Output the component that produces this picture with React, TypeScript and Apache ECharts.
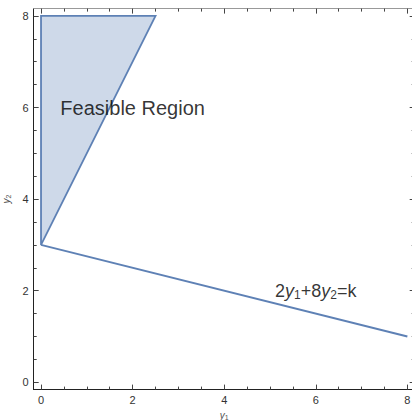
import React, { useEffect, useRef } from 'react';
import * as echarts from 'echarts';

// Feasible region polygon vertices (y1, y2)
const regionX = [0, 2.5, 0];
const regionY = [8, 8, 3];
// Objective line 2y1 + 8y2 = k
const lineX = [0, 8];
const lineY = [3, 1];
// Axis ticks
const majorTicks = [0, 2, 4, 6, 8];
const minorTicks = [0.5, 1, 1.5, 2.5, 3, 3.5, 4.5, 5, 5.5, 6.5, 7, 7.5];
const axisMin = -0.16;
const axisMax = 8.16;
// Annotations
const regionLabel = 'Feasible Region';
const regionLabelAt = [2, 6];
const lineLabel = '2{i|y}{s|1}+8{i|y}{s|2}=k';
const lineLabelAt = [6, 2];
const xName = '{i|y}{s|1}';
const yName = '{i|y}{s|2}';

const FONT = "'Liberation Sans', Arial, sans-serif";
const BLUE = '#5e81b5';

export default function App() {
  const ref = useRef<HTMLDivElement>(null);
  useEffect(() => {
    const chart = echarts.init(ref.current!, null, { renderer: 'svg' });

    const nameRich = {
      i: { fontStyle: 'italic', fontSize: 10, color: '#555', fontFamily: FONT },
      s: { fontSize: 7, color: '#555', fontFamily: FONT, padding: [3, 0, 0, 0] },
    };

    const axis = (
      position: string,
      values: number[],
      len: number,
      showLine: boolean,
      lineColor: string,
      showLabels: boolean,
      name?: string,
      nameGap?: number
    ) => ({
      type: 'value',
      position,
      min: axisMin,
      max: axisMax,
      name,
      nameLocation: 'middle',
      nameGap,
      nameTextStyle: { color: '#555', fontSize: 10, fontFamily: FONT, rich: nameRich },
      axisLine: { show: showLine, onZero: false, lineStyle: { color: lineColor, width: 1 } },
      axisTick: {
        show: true,
        inside: true,
        length: len,
        customValues: values,
        lineStyle: { color: '#444', width: 1 },
      },
      axisLabel: {
        show: showLabels,
        customValues: values,
        margin: 5,
        color: '#333',
        fontSize: 11,
        fontFamily: FONT,
      },
      splitLine: { show: false },
      minorTick: { show: false },
    });

    chart.setOption({
      animation: false,
      backgroundColor: '#fff',
      grid: { left: 33.7, top: 8.6, width: 381, height: 381, outerBoundsMode: 'none', containLabel: false },
      xAxis: [
        axis('bottom', majorTicks, 5, true, '#222', true, xName, 19),
        axis('bottom', minorTicks, 3, false, '#222', false),
        axis('top', majorTicks, 5, true, '#999', false),
        axis('top', minorTicks, 3, false, '#999', false),
      ],
      yAxis: [
        axis('left', majorTicks, 5, true, '#222', true, yName, 21),
        axis('left', minorTicks, 3, false, '#222', false),
        axis('right', majorTicks, 5, true, '#999', false),
        axis('right', minorTicks, 3, false, '#999', false),
      ],
      series: [
        {
          type: 'custom',
          xAxisIndex: 0,
          yAxisIndex: 0,
          silent: true,
          z: 2,
          data: [0],
          renderItem: (_params: any, api: any) => ({
            type: 'polygon',
            shape: { points: regionX.map((x, i) => api.coord([x, regionY[i]])) },
            style: { fill: 'rgba(94,129,181,0.3)', stroke: BLUE, lineWidth: 1.8 },
          }),
        },
        {
          type: 'line',
          xAxisIndex: 0,
          yAxisIndex: 0,
          silent: true,
          z: 3,
          symbol: 'none',
          lineStyle: { color: BLUE, width: 2 },
          data: lineX.map((x, i) => [x, lineY[i]]),
        },
        {
          type: 'scatter',
          xAxisIndex: 0,
          yAxisIndex: 0,
          silent: true,
          z: 5,
          symbolSize: 0,
          label: { show: true, position: 'inside', color: '#000', fontFamily: FONT },
          data: [
            { value: regionLabelAt, label: { formatter: regionLabel, fontSize: 20 } },
            {
              value: lineLabelAt,
              label: {
                formatter: lineLabel,
                fontSize: 18,
                rich: {
                  i: { fontStyle: 'italic', fontSize: 18, color: '#000', fontFamily: FONT },
                  s: { fontSize: 12, color: '#000', fontFamily: FONT, padding: [8, 0, 0, 0] },
                },
              },
            },
          ],
        },
      ],
    });
    return () => chart.dispose();
  }, []);
  return <div ref={ref} style={{ position: 'fixed', left: 0, top: 0, width: 412, height: 420 }} />;
}
